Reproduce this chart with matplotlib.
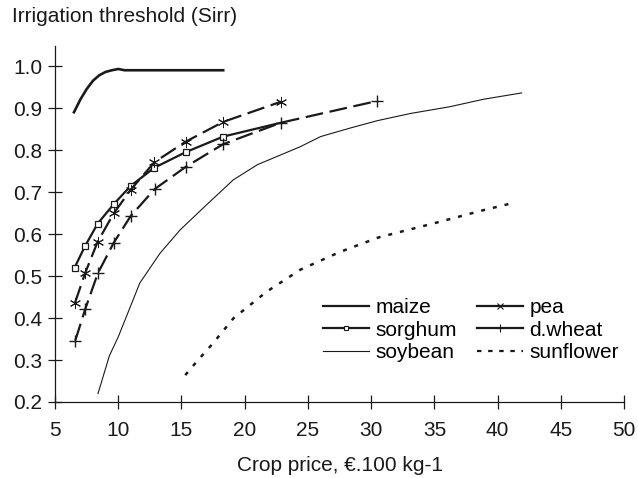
import numpy as np
import matplotlib
matplotlib.use('Agg')
from matplotlib import pyplot as plt
from matplotlib.lines import Line2D

plt.rcParams['font.family'] = ['Liberation Sans', 'DejaVu Sans']

# values
maize_x = [6.5, 7.0, 7.5, 8.0, 8.5, 9.0, 9.5, 10.0, 10.5, 18.3]
maize_y = [0.89, 0.92, 0.945, 0.965, 0.978, 0.986, 0.99, 0.993, 0.99, 0.99]

pea_x = [6.58, 7.37, 8.38, 9.64, 11.0, 12.86, 15.34, 18.3, 22.86]
pea_y = [0.436, 0.506, 0.582, 0.649, 0.706, 0.771, 0.82, 0.867, 0.915]

sorghum_x = [6.55, 7.37, 8.38, 9.64, 11.0, 12.86, 15.34, 18.3, 22.86]
sorghum_y = [0.52, 0.571, 0.625, 0.671, 0.715, 0.758, 0.795, 0.832, 0.865]

wheat_x = [6.6, 7.4, 8.38, 9.64, 10.99, 12.88, 15.34, 18.3, 22.86, 30.5]
wheat_y = [0.346, 0.422, 0.506, 0.579, 0.643, 0.707, 0.76, 0.814, 0.865, 0.917]

soy_x = [8.4, 9.3, 10.0, 11.0, 11.7, 13.3, 14.9, 17.0, 19.1, 21.0, 24.4, 26.0,
         28.3, 30.5, 33.1, 36.2, 38.9, 41.9]
soy_y = [0.22, 0.31, 0.355, 0.43, 0.483, 0.554, 0.61, 0.67, 0.729, 0.765, 0.808,
         0.832, 0.852, 0.87, 0.887, 0.903, 0.921, 0.936]

sun_x = [15.3, 16.2, 17.5, 19.1, 21.75, 24.4, 27.5, 30.6, 34.9, 38.9, 41.1]
sun_y = [0.264, 0.296, 0.34, 0.399, 0.463, 0.515, 0.557, 0.592, 0.625, 0.657, 0.673]

xticks = [5, 10, 15, 20, 25, 30, 35, 40, 45, 50]
yticks = [0.2, 0.3, 0.4, 0.5, 0.6, 0.7, 0.8, 0.9, 1.0]

fig = plt.figure(figsize=(6.38, 4.78), dpi=100)
ax = fig.add_axes([0.0862, 0.159, 0.892, 0.745])

k = '#1a1a1a'
star = (6, 2, 0)  # asterisk marker
ax.plot(maize_x, maize_y, color=k, lw=1.9)
ax.plot(sorghum_x, sorghum_y, color=k, lw=1.6, marker='s', ms=4.2, mfc='white',
        mew=0.9, markevery=list(range(len(sorghum_x) - 1)))
ax.plot(soy_x, soy_y, color=k, lw=0.8)
ax.plot(pea_x, pea_y, color=k, lw=1.6, dashes=(8, 3))
ax.plot(pea_x, pea_y, ls='none', color=k, marker=star, ms=8, mew=0.7)
ax.plot(wheat_x, wheat_y, color=k, lw=1.6, dashes=(8, 3))
ax.plot(wheat_x, wheat_y, ls='none', color=k, marker='+', ms=9, mew=1.0)
ax.plot(sun_x, sun_y, color=k, lw=1.8, dashes=(1.6, 3.2))

ax.set_xlim(5, 50)
ax.set_ylim(0.2, 1.048)
ax.set_xticks(xticks)
ax.set_yticks(yticks)
ax.set_yticklabels(['%.1f' % v for v in yticks])
for s in ['top', 'right']:
    ax.spines[s].set_visible(False)
for s in ['left', 'bottom']:
    ax.spines[s].set_linewidth(0.9)
    ax.spines[s].set_color(k)
ax.tick_params(direction='inout', length=10, width=0.9, labelsize=15, colors=k, pad=4)
ax.tick_params(axis='x', pad=9)

handles = [
    Line2D([], [], color=k, lw=1.6),
    Line2D([], [], color=k, lw=1.6, marker='s', ms=3.5, mfc='white', mew=0.8),
    Line2D([], [], color=k, lw=0.8),
    Line2D([], [], color=k, lw=1.6, marker='x', ms=5, mew=0.8),
    Line2D([], [], color=k, lw=1.6, marker='+', ms=6, mew=0.8),
    Line2D([], [], color=k, lw=1.6, dashes=(2, 3)),
]
labels = ['maize', 'sorghum', 'soybean', 'pea', 'd.wheat', 'sunflower']
fig.legend(handles, labels, ncol=2, frameon=False, fontsize=15,
           loc='upper left', bbox_to_anchor=(323 / 638, 1 - 298 / 478),
           handlelength=2.2, handletextpad=0.3, columnspacing=1.0,
           labelspacing=0.18, borderpad=0, borderaxespad=0)

fig.text(0.019, 0.965, 'Irrigation threshold (Sirr)', fontsize=15, color=k,
         ha='left', va='center')
fig.text(0.533, 0.027, 'Crop price, €.100 kg-1', fontsize=15, color=k,
         ha='center', va='center')

fig.savefig('out.png', dpi=100)
